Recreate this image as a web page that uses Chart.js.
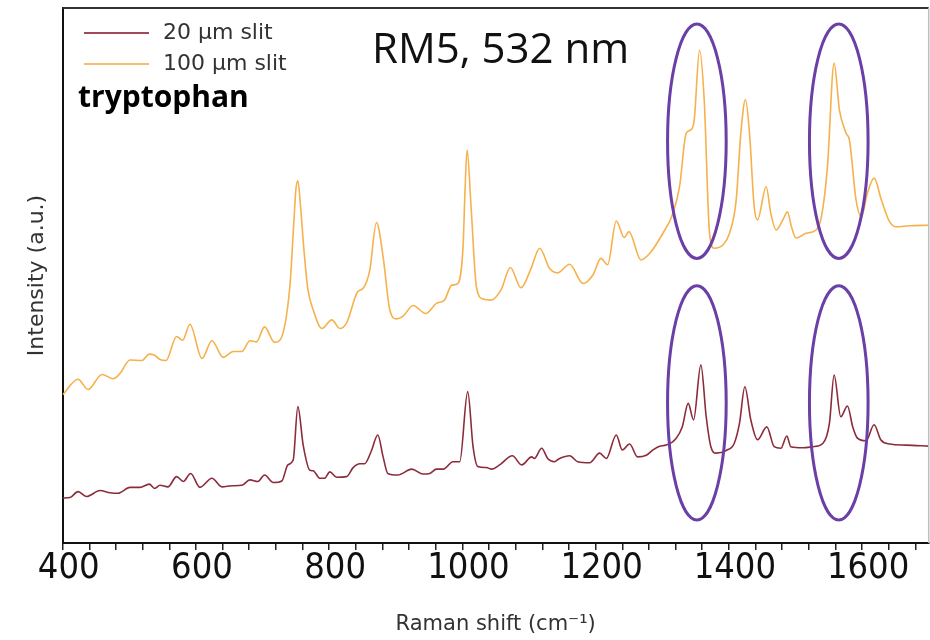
<!DOCTYPE html>
<html>
<head>
<meta charset="utf-8">
<script src="https://cdn.jsdelivr.net/npm/chart.js@4/dist/chart.umd.min.js"></script>
<style>
  html, body { margin: 0; padding: 0; background: #fff; }
  #wrap { width: 930px; height: 640px; position: relative; }
</style>
</head>
<body>
<div id="wrap"><canvas id="c" width="930" height="640"></canvas></div>
<script>
// ---- data ----
const seriesLabels = ['20 \u00b5m slit', '100 \u00b5m slit'];
const sampleName = 'tryptophan';
const chartTitle = 'RM5, 532 nm';
const xTitle = 'Raman shift (cm\u207b\u00b9)';
const yTitle = 'Intensity (a.u.)';

const shift100 = [400,423,438,459,476,486,501,519,530,538,546,555,571,580,591,609,624,641,656,669,681,691,703,718,726,741,747,750,753,757,762,768,776,789,804,816,826,843,851,861,871,881,891,901,911,926,945,961,973,984,993,1001,1004,1007,1013,1021,1031,1043,1058,1072,1088,1103,1116,1131,1143,1161,1181,1196,1208,1218,1231,1243,1250,1268,1281,1301,1316,1326,1336,1343,1348,1356,1363,1371,1378,1391,1401,1411,1418,1425,1431,1438,1443,1456,1463,1471,1481,1488,1494,1501,1516,1531,1539,1548,1558,1566,1576,1581,1591,1599,1608,1618,1629,1641,1651,1671,1700];
const int100 = [27.7,30.6,28.7,31.5,30.7,31.7,34.2,34.1,35.3,35.1,34.3,34.1,38.6,37.9,40.9,34.5,37.8,34.7,35.8,35.8,37.8,37.6,40.4,37.5,37.9,47.9,60.0,66.0,67.7,63.0,55.0,47.5,43.6,40.1,41.7,40.1,41.1,47.0,47.6,51.0,59.9,53.5,43.6,41.9,42.4,44.4,42.9,44.8,45.4,48.2,48.5,55.4,66.0,73.5,62.9,47.9,45.6,45.4,47.3,51.5,47.7,51.3,55.1,51.3,50.5,52.1,48.5,50.1,53.2,52.0,60.2,57.1,58.2,52.9,54.1,57.9,61.6,66.6,76.6,77.2,79.1,92.1,82.8,57.9,55.1,55.7,57.9,64.1,76.6,82.9,76.6,62.9,60.4,66.6,61.6,58.5,60.4,61.9,59.1,57.0,57.9,58.5,61.0,70.3,89.7,80.9,76.6,75.3,64.1,61.0,65.4,68.2,64.1,60.1,59.1,59.3,59.4];

const shift20 = [400,411,423,436,456,471,483,501,516,530,538,546,558,571,581,592,606,624,639,654,669,681,693,703,716,729,738,746,753,761,771,776,786,793,801,811,826,836,846,853,863,873,881,888,903,924,941,951,961,971,986,996,1008,1016,1023,1036,1044,1056,1075,1089,1104,1108,1119,1128,1138,1146,1161,1173,1191,1206,1216,1231,1240,1251,1263,1276,1286,1296,1306,1321,1330,1339,1347,1358,1366,1373,1381,1396,1408,1416,1424,1433,1443,1457,1468,1478,1487,1493,1511,1526,1541,1551,1558,1568,1578,1586,1593,1606,1618,1628,1641,1666,1700];
const int20 = [8.4,8.5,9.6,8.7,9.8,9.4,9.3,10.4,10.4,11.0,10.2,10.8,10.5,12.4,11.5,13.0,10.4,12.1,10.5,10.7,10.8,11.8,11.5,12.7,11.3,11.6,14.6,15.5,25.5,18.3,13.6,13.5,12.1,12.1,13.3,12.3,12.4,14.1,14.8,14.8,17.1,20.2,16.1,13.0,12.7,13.8,12.9,13.0,13.8,13.8,15.2,15.2,28.3,18.0,14.3,14.1,13.8,14.6,16.3,14.6,16.1,15.8,17.7,15.8,15.2,15.8,16.3,15.2,15.0,16.8,15.8,20.2,17.4,18.5,16.1,16.4,17.4,18.1,18.3,19.6,21.7,26.1,23.0,33.3,23.6,18.0,16.8,17.3,18.6,22.4,29.2,23.0,19.3,21.7,18.0,17.7,20.0,18.0,17.8,18.0,18.6,22.4,31.4,23.6,25.6,21.7,19.6,19.1,22.1,19.3,18.5,18.3,18.1];

// highlighted band regions (ellipses): centre shift, centre intensity
const markShift = [1352, 1565, 1352, 1565];
const markLevel = [75.1, 75.1, 26.2, 26.2];
const markHalfShift = 44;
const markHalfLevel = 21.9;

const xMin = 400, xMax = 1700, xMajor = 200, xMinor = 40;

const toPts = (xs, ys) => xs.map((x, i) => ({ x: x, y: ys[i] }));

const colors = ['#8c2b3a', '#f6b14c'];

const annot = {
  id: 'annot',
  afterDatasetsDraw(chart) {
    const { ctx, chartArea: a, scales: { x, y } } = chart;
    ctx.save();
    // frame top/right
    ctx.strokeStyle = '#333';
    ctx.lineWidth = 2;
    ctx.beginPath(); ctx.moveTo(a.left, a.top); ctx.lineTo(a.right, a.top); ctx.stroke();
    ctx.strokeStyle = '#bdbdbd';
    ctx.lineWidth = 1.5;
    ctx.beginPath(); ctx.moveTo(a.right, a.top); ctx.lineTo(a.right, a.bottom); ctx.stroke();
    // ellipses
    ctx.strokeStyle = '#6a3fa6';
    ctx.lineWidth = 3;
    for (let i = 0; i < markShift.length; i++) {
      const cx = x.getPixelForValue(markShift[i]);
      const cy = y.getPixelForValue(markLevel[i]);
      const rx = Math.abs(x.getPixelForValue(markShift[i] + markHalfShift) - cx);
      const ry = Math.abs(y.getPixelForValue(markLevel[i] + markHalfLevel) - cy);
      ctx.beginPath(); ctx.ellipse(cx, cy, rx, ry, 0, 0, Math.PI * 2); ctx.stroke();
    }
    // legend
    chart.data.datasets.forEach((ds, i) => {
      const ly = 33 + i * 31;
      ctx.strokeStyle = ds.borderColor;
      ctx.globalAlpha = 0.85;
      ctx.lineWidth = 2;
      ctx.beginPath(); ctx.moveTo(84, ly); ctx.lineTo(149, ly); ctx.stroke();
      ctx.globalAlpha = 1;
      ctx.fillStyle = '#333';
      ctx.font = '22px "DejaVu Sans", sans-serif';
      ctx.textBaseline = 'alphabetic';
      ctx.textAlign = 'left';
      ctx.fillText(ds.label, 163, ly + 6);
    });
    ctx.fillStyle = '#000';
    ctx.font = 'bold 30px "Open Sans", sans-serif';
    ctx.fillText(sampleName, 78, 107);
    ctx.fillStyle = '#111';
    ctx.font = '42px "Open Sans", sans-serif';
    ctx.fillText(chartTitle, 372, 63);
    ctx.restore();
  }
};

new Chart(document.getElementById('c'), {
  type: 'line',
  data: {
    datasets: [
      { label: seriesLabels[0], data: toPts(shift20, int20), borderColor: colors[0], borderWidth: 1.6, pointRadius: 0, cubicInterpolationMode: 'monotone', fill: false },
      { label: seriesLabels[1], data: toPts(shift100, int100), borderColor: colors[1], borderWidth: 1.6, pointRadius: 0, cubicInterpolationMode: 'monotone', fill: false }
    ]
  },
  options: {
    responsive: false,
    animation: false,
    events: [],
    layout: { padding: { top: 8, right: 1.3, left: 0, bottom: 0 } },
    plugins: { legend: { display: false }, tooltip: { enabled: false } },
    scales: {
      x: {
        type: 'linear', min: xMin, max: xMax,
        afterFit(s) { s.height = 97; },
        border: { display: true, color: '#111', width: 2 },
        grid: { display: true, drawOnChartArea: false, drawTicks: true, tickLength: 7, color: '#222', lineWidth: 1.5 },
        ticks: {
          stepSize: xMinor, includeBounds: false, autoSkip: false, maxRotation: 0,
          padding: 2, labelOffset: 6, color: '#111',
          font: { family: "'Liberation Sans Narrow', 'DejaVu Sans Condensed', sans-serif", size: 36, lineHeight: 0.9 },
          callback: (v) => (v % xMajor === 0 ? String(v) : '')
        },
        title: { display: true, text: xTitle, color: '#333', font: { family: '"DejaVu Sans", sans-serif', size: 21, lineHeight: 1.2 }, padding: { top: 0, bottom: 2.4 } }
      },
      y: {
        min: 0, max: 100,
        afterFit(s) { s.width = 62.7; },
        border: { display: true, color: '#111', width: 2 },
        grid: { display: false, drawTicks: false },
        ticks: { display: false },
        title: { display: true, text: yTitle, color: '#333', font: { family: '"DejaVu Sans", sans-serif', size: 22, lineHeight: 1.2 }, padding: { top: 24, bottom: 0 } }
      }
    }
  },
  plugins: [annot]
});
</script>
</body>
</html>
